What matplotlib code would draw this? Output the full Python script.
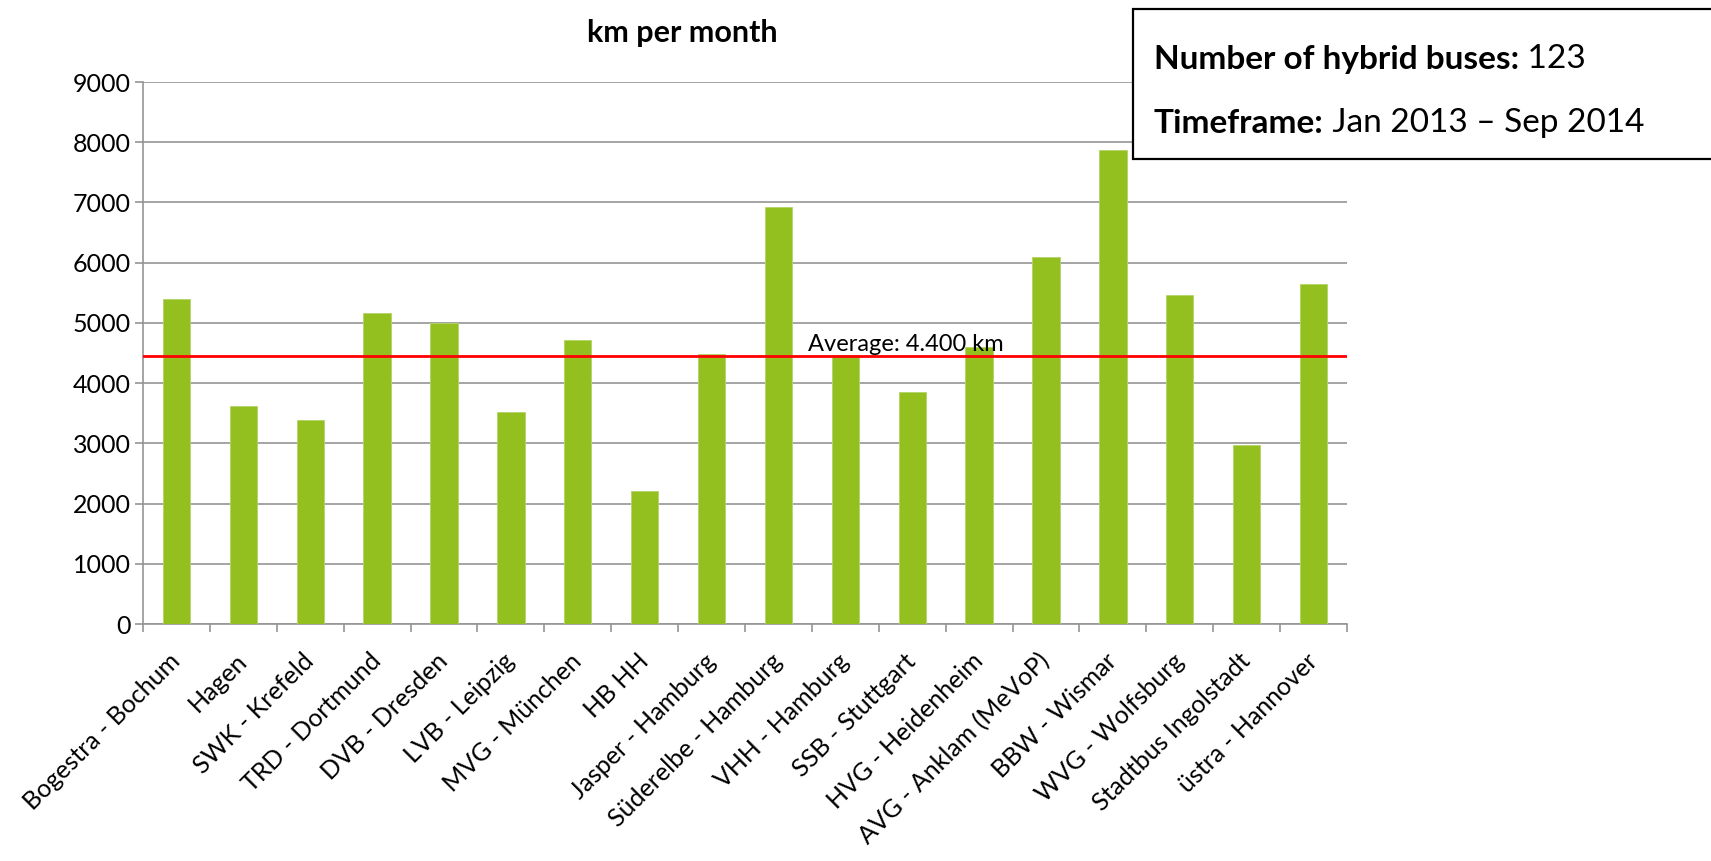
import matplotlib
matplotlib.use("Agg")
import matplotlib.pyplot as plt
from matplotlib.patches import Rectangle
from matplotlib.text import Annotation
import numpy as np

plt.rcParams['font.family'] = ['Lato', 'DejaVu Sans']

# ---- data ----
categories = ["Bogestra - Bochum", "Hagen", "SWK - Krefeld", "TRD - Dortmund",
              "DVB - Dresden", "LVB - Leipzig", "MVG - München", "HB HH",
              "Jasper - Hamburg", "Süderelbe - Hamburg", "VHH - Hamburg",
              "SSB - Stuttgart", "HVG - Heidenheim", "AVG - Anklam (MeVoP)",
              "BBW - Wismar", "WVG - Wolfsburg", "Stadtbus Ingolstadt",
              "üstra - Hannover"]
km_per_month = [5400, 3620, 3380, 5170, 5000, 3520, 4710, 2210, 4490,
                6930, 4460, 3850, 4600, 6100, 7870, 5460, 2980, 5650]
average_value = 4445
average_label = "Average: 4.400 km"
y_ticks = [0, 1000, 2000, 3000, 4000, 5000, 6000, 7000, 8000, 9000]
chart_title = "km per month"
info_bold = ["Number of hybrid buses:", "Timeframe:"]
info_text = [" 123", " Jan 2013 \u2013 Sep 2014"]

# ---- figure ----
W, H = 1711, 861
fig = plt.figure(figsize=(W / 100, H / 100), dpi=100)
ax = fig.add_axes([143 / W, 1 - 624 / H, (1347 - 143) / W, (624 - 82) / H])
ax.set_zorder(1)

grey = '#959595'
x = np.arange(len(categories))
ax.bar(x, km_per_month, width=0.41, color='#93C01F', edgecolor='#B3D468',
       linewidth=0.6, zorder=3)
ax.axhline(average_value, color='#FF0000', linewidth=2.0, zorder=4)
ax.annotate(average_label, xy=((808 - 143) / (1347 - 143), average_value),
            xycoords=('axes fraction', 'data'), xytext=(0, 4),
            textcoords='offset points', ha='left', va='baseline',
            fontsize=17, color='black', zorder=5)

ax.set_xlim(-0.5, len(categories) - 0.5)
ax.set_ylim(0, 9000)
ax.set_yticks(y_ticks)
ax.set_yticklabels([str(v) for v in y_ticks])
ax.yaxis.grid(True, color=grey, linewidth=1.2, zorder=0)
ax.set_axisbelow(True)

# category boundary ticks (major), labels at centres (minor)
ax.set_xticks(np.arange(len(categories) + 1) - 0.5)
ax.set_xticklabels([])
ax.set_xticks(x, minor=True)
ax.set_xticklabels(categories, minor=True, rotation=45, ha='right',
                   va='center', rotation_mode='anchor', fontsize=18)
ax.tick_params(axis='x', which='major', length=6, width=1.2, color=grey,
               direction='out')
ax.tick_params(axis='x', which='minor', length=0, pad=24)
ax.tick_params(axis='y', length=6, width=1.2, color=grey, pad=3,
               labelsize=18)

for s in ['top', 'right']:
    ax.spines[s].set_visible(False)
for s in ['left', 'bottom']:
    ax.spines[s].set_color(grey)
    ax.spines[s].set_linewidth(1.2)

fig.text(682 / W, 1 - 42 / H, chart_title, ha='center', va='baseline',
         fontsize=22, fontweight='bold')

# info box (overlaps chart, runs off the right edge)
box = Rectangle((1133 / W, 1 - 159 / H), 0.4, 150 / H,
                transform=fig.transFigure, facecolor='white',
                edgecolor='black', linewidth=1.6, zorder=10)
fig.patches.append(box)
baselines = [69, 133]
for b, t, yb in zip(info_bold, info_text, baselines):
    tb = fig.text(1154 / W, 1 - yb / H, b, ha='left', va='baseline',
                  fontsize=24, fontweight='bold', zorder=11)
    fig.add_artist(Annotation(t, xy=(1, 0), xycoords=tb, ha='left',
                              va='bottom', fontsize=24, zorder=11))

fig.savefig('out.png', dpi=100)
